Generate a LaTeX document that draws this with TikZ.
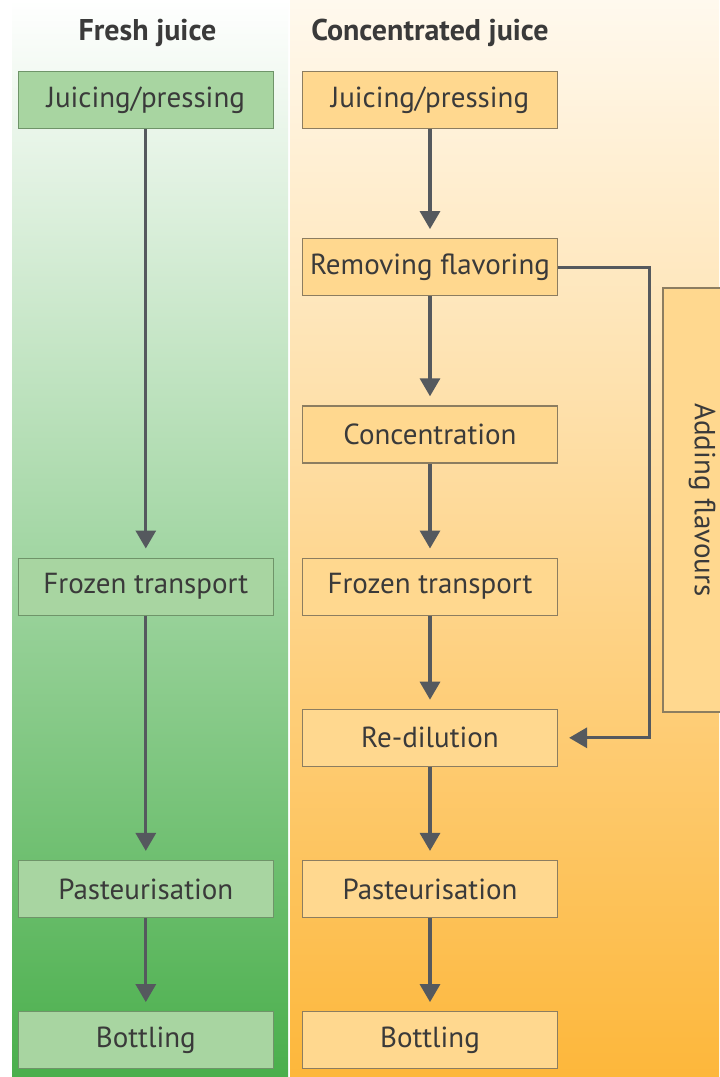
\documentclass[tikz,border=0pt]{standalone}
\usepackage{fontspec}
\setmainfont{PT Sans}
\usetikzlibrary{positioning,arrows.meta}

\definecolor{textgrey}{HTML}{3A3A3A}
\definecolor{arrowgrey}{HTML}{55595E}
\definecolor{freshfill}{HTML}{A8D5A1}
\definecolor{freshline}{HTML}{6F9469}
\definecolor{freshmid}{HTML}{A6D49F}
\definecolor{freshbot}{HTML}{4AAF4C}
\definecolor{concfill}{HTML}{FFD88F}
\definecolor{concline}{HTML}{8C7D60}
\definecolor{conctop}{HTML}{FFF9EE}
\definecolor{concmid}{HTML}{FFDA98}
\definecolor{concbot}{HTML}{FDB73B}

\tikzstyle{freshstep}=[
	rectangle,
	draw=freshline,
	fill=freshfill,
	line width=0.6pt,
	text=textgrey,
	text centered,
	minimum width=127.5pt,
	minimum height=28.5pt,
	font=\fontsize{14.5}{17}\selectfont]
\tikzstyle{concstep}=[freshstep, draw=concline, fill=concfill]
\tikzstyle{header}=[text=textgrey, font=\fontsize{15}{18}\selectfont\bfseries]
\tikzstyle{flow}=[draw=arrowgrey, line width=1.6pt, -{Triangle[length=9pt,width=10pt]}, shorten >=4.5pt]

\begin{document}
\begin{tikzpicture}[x=0.5pt, y=-0.5pt]

		\useasboundingbox (0,0) rectangle (719,1077);
		\fill[white] (0,0) rectangle (719,1077);

		% background panels
		\shade[top color=white, middle color=freshmid, bottom color=freshbot] (12,0) rectangle (288,1077);
		\shade[top color=conctop, middle color=concmid, bottom color=concbot] (290,0) rectangle (719,1077);

		% headers
		\node (freshhead) [header] at (147.5,33) {Fresh juice};
		\node (conchead) [header] at (430,33) {Concentrated juice};

		% concentrated juice column
		\node (cjuicing) [concstep] at (430,100) {Juicing/pressing};
		\node (cremove) [concstep, below=54.5pt of cjuicing] {Removing flavoring};
		\node (cconcentrate) [concstep, below=54.5pt of cremove] {Concentration};
		\node (cfrozen) [concstep, below=47pt of cconcentrate] {Frozen transport};
		\node (credilute) [concstep, below=46.5pt of cfrozen] {Re-dilution};
		\node (cpasteur) [concstep, below=46.5pt of credilute] {Pasteurisation};
		\node (cbottling) [concstep, below=46.5pt of cpasteur] {Bottling};

		% fresh juice column
		\node (fjuicing) [freshstep, left=14pt of cjuicing] {Juicing/pressing};
		\node (ffrozen) [freshstep, left=14pt of cfrozen] {Frozen transport};
		\node (fpasteur) [freshstep, left=14pt of cpasteur] {Pasteurisation};
		\node (fbottling) [freshstep, left=14pt of cbottling] {Bottling};

		% side box
		\node (adding) [concstep, rotate=-90, minimum width=212pt, minimum height=39pt] at (702,500) {Adding flavours};

		% connectors
		\draw[flow] (fjuicing) -- (ffrozen);
		\draw[flow] (ffrozen) -- (fpasteur);
		\draw[flow] (fpasteur) -- (fbottling);

		\draw[flow] (cjuicing) -- (cremove);
		\draw[flow] (cremove) -- (cconcentrate);
		\draw[flow] (cconcentrate) -- (cfrozen);
		\draw[flow] (cfrozen) -- (credilute);
		\draw[flow] (credilute) -- (cpasteur);
		\draw[flow] (cpasteur) -- (cbottling);

		\draw[flow, shorten >=5.5pt] (cremove.east) -- ++(91,0) |- (credilute.east);

\end{tikzpicture}
\end{document}
